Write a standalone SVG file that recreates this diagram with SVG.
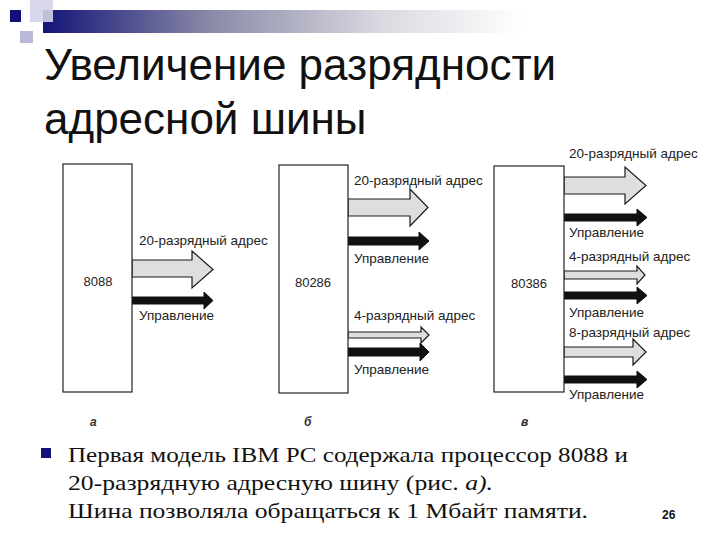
<svg xmlns="http://www.w3.org/2000/svg" width="720" height="540" viewBox="0 0 720 540">
<defs>
<linearGradient id="bar" x1="0" y1="0" x2="1" y2="0">
<stop offset="0" stop-color="#141478"/>
<stop offset="0.35" stop-color="#8a8aa8"/>
<stop offset="0.7" stop-color="#d8d8e0"/>
<stop offset="1" stop-color="#ffffff"/>
</linearGradient>
</defs>
<style>
.box{fill:#fff;stroke:#222;stroke-width:1.2}
.addr{fill:#dedede;stroke:#1a1a1a;stroke-width:1.2;stroke-linejoin:miter}
.ctrl{fill:#111;stroke:#111;stroke-width:1}
.lbl{font-family:"Liberation Sans",Arial,sans-serif;font-size:13.5px;fill:#222}
.chip{font-family:"Liberation Sans",Arial,sans-serif;font-size:13px;fill:#222;text-anchor:middle}
.fig{font-family:"Liberation Sans",Arial,sans-serif;font-size:12px;font-style:italic;font-weight:bold;fill:#333}
.title{font-family:"Liberation Sans",Arial,sans-serif;font-size:44px;fill:#111}
.body{font-family:"Liberation Serif","Times New Roman",serif;font-size:22px;fill:#111}
</style>
<rect width="720" height="540" fill="#fff"/>
<!-- decoration -->
<rect x="43" y="10" width="480" height="23" fill="url(#bar)"/>
<rect x="30" y="0" width="23" height="22" fill="#d4d4e8" opacity="0.9"/>
<rect x="20" y="31" width="13" height="12" fill="#b8b8d8"/>
<rect x="10" y="10" width="11" height="12" fill="#10107a"/>
<!-- title -->
<text class="title" x="44" y="80">Увеличение разрядности</text>
<text class="title" x="44" y="134">адресной шины</text>

<g id="connectors">
<polygon class="addr" points="132,260 192,260 192,251 213,269.5 192,288 192,277 132,277"/>
<polygon class="ctrl" points="132,297 204,297 204,292 213,300.5 204,309 204,304 132,304"/>

<polygon class="addr" points="348,199 410,199 410,189 428,207.5 410,226 410,216 348,216"/>
<polygon class="ctrl" points="348,237 419,237 419,232 429,241 419,250 419,245 348,245"/>
<polygon class="addr" points="348,332 421,332 421,327 429,335 421,343 421,338 348,338"/>
<polygon class="ctrl" points="348,348 420,348 420,343 429,352 420,361 420,356 348,356"/>

<polygon class="addr" points="564,177 625,177 625,167 646,185.5 625,204 625,194 564,194"/>
<polygon class="ctrl" points="564,214 637,214 637,209 647,217.5 637,226 637,221 564,221"/>
<polygon class="addr" points="564,271 637,271 637,266 645,275 637,284 637,279 564,279"/>
<polygon class="ctrl" points="564,292 637,292 637,287 647,295.5 637,304 637,299 564,299"/>
<polygon class="addr" points="564,347 633,347 633,339 646,352 633,365 633,357 564,357"/>
<polygon class="ctrl" points="564,376 637,376 637,371 647,379.5 637,388 637,383 564,383"/>
</g>

<g id="n8088">
<rect class="box" x="63" y="164" width="69" height="228"/>
<text class="chip" x="98" y="286">8088</text>
</g>
<g id="n80286">
<rect class="box" x="279" y="165" width="69" height="228"/>
<text class="chip" x="313" y="287">80286</text>
</g>
<g id="n80386">
<rect class="box" x="494" y="166" width="70" height="226"/>
<text class="chip" x="529" y="288">80386</text>
</g>

<g id="labels">
<text class="lbl" x="139" y="245">20-разрядный адрес</text>
<text class="lbl" x="139" y="320">Управление</text>

<text class="lbl" x="354" y="185">20-разрядный адрес</text>
<text class="lbl" x="354" y="263">Управление</text>
<text class="lbl" x="354" y="320">4-разрядный адрес</text>
<text class="lbl" x="354" y="374">Управление</text>

<text class="lbl" x="569" y="158">20-разрядный адрес</text>
<text class="lbl" x="569" y="237">Управление</text>
<text class="lbl" x="569" y="261">4-разрядный адрес</text>
<text class="lbl" x="569" y="317">Управление</text>
<text class="lbl" x="569" y="337">8-разрядный адрес</text>
<text class="lbl" x="569" y="399">Управление</text>

<text class="fig" x="90" y="426">а</text>
<text class="fig" x="304" y="426">б</text>
<text class="fig" x="521" y="426">в</text>
</g>

<!-- bullet text -->
<rect x="41" y="448" width="10" height="10" fill="#12127a"/>
<text class="body" x="68" y="462" textLength="560" lengthAdjust="spacingAndGlyphs">Первая модель IBM PC содержала процессор 8088 и</text>
<text class="body" x="68" y="490" textLength="425" lengthAdjust="spacingAndGlyphs">20-разрядную адресную шину (рис.  <tspan font-style="italic">а).</tspan></text>
<text class="body" x="68" y="518" textLength="520" lengthAdjust="spacingAndGlyphs">Шина позволяла обращаться к 1 Мбайт памяти.</text>
<text x="662" y="519" font-family="Liberation Sans,Arial,sans-serif" font-size="12" font-weight="bold" fill="#111">26</text>
</svg>
